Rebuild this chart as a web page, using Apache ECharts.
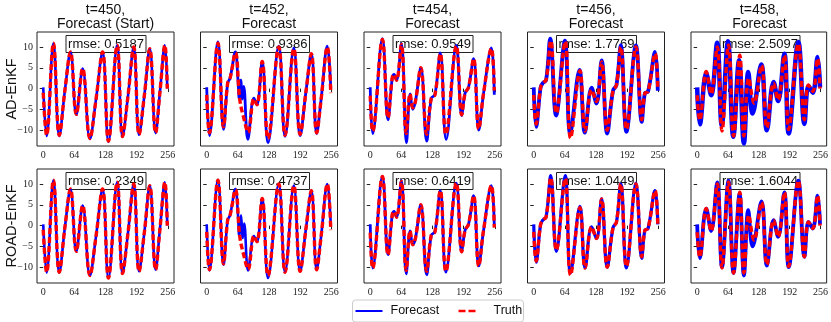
<!DOCTYPE html>
<html><head><meta charset="utf-8">
<script src="https://cdn.jsdelivr.net/npm/echarts@6/dist/echarts.min.js"></script>
<style>html,body{margin:0;padding:0;background:#fff}#c{width:831px;height:322px}</style>
</head><body><div id="c"></div>
<script>
const xTicks = [0, 64, 128, 192, 256];
const yTicks = [-10, -5, 0, 5, 10];
const panelTitles = ["t=450,\nForecast (Start)", "t=452,\nForecast", "t=454,\nForecast", "t=456,\nForecast", "t=458,\nForecast"];
const rowNames = ["AD-EnKF", "ROAD-EnKF"];
const legendNames = ["Forecast", "Truth"];
const rmseAD = ["0.5187", "0.9386", "0.9549", "1.7769", "2.5097"];
const rmseROAD = ["0.2349", "0.4737", "0.6419", "1.0449", "1.6044"];

// Truth (same for both rows), [index, value] at read-off turning points
const truth450 = [[0,-1],[7,-11.2],[21,10.9],[33,-11.2],[45,0],[56,8.8],[68,-6.2],[81,4.8],[96,-12],[108,-3],[122,8.8],[134,-12.6],[152,10.4],[163,-11.5],[174,-2],[186,10],[197,-11],[208,-1.5],[219,9.6],[231,-10.6],[240,-0.7],[250,10.4],[255,0]];
const truth452 = [[0,-1.5],[5.5,-10.6],[23,10.9],[34.5,-9.2],[43,1.3],[48,2.5],[59,8.6],[68,-2.7],[76,-7],[85,-10.5],[97,-2.5],[103,-3.9],[114,6.5],[126,-12],[148,10],[161,-11.2],[179,9.6],[192,-11],[204,-0.7],[215,8.4],[226,-10.6],[235,-2.7],[248,10],[255,-1.1]];
const truth454 = [[0,-1.7],[5,-10.2],[25,11.8],[36.5,-7],[45.5,2.8],[49,3.4],[54,2],[64,10.6],[74,-10.8],[82,-1.3],[87.5,-4.6],[93,-3],[104,5],[116,-11],[125.5,-2.3],[133,-1.5],[144,8.4],[155.5,-11],[177,10.2],[188,-6.3],[195,-1.1],[202,0.3],[212.5,7.2],[223,-9.7],[233,-1.1],[249,9.6],[255,-0.5]];
const truth456 = [[0,-1.5],[5,-8.5],[14,0.2],[18.5,1.3],[25.5,2.1],[35,11.5],[46.5,-5.9],[64.7,11.3],[75.7,-11.9],[95,4.3],[105.5,-10.2],[119,-0.3],[129,-3.1],[139.5,6.4],[151,-10],[163,-0.5],[170,0.8],[179,10],[190.6,-9.8],[210,10],[222,-7.5],[228.5,-1.1],[235,-0.7],[249.5,8.4],[255,0]];
const truth458 = [[0,-1.6],[5.5,-7.6],[18.8,4.1],[29,-1.3],[41.7,10],[51.5,-10.2],[65,10.5],[75.5,-11.4],[88.5,8],[97,-11.4],[107,2.5],[118,-3.5],[133.6,5.6],[144.7,-9.4],[158.6,1.3],[168,-2.7],[181,8],[190,-9.8],[210,10.8],[222.6,-7.5],[231,0.9],[240,-0.7],[250,7.2],[255,0]];

// AD-EnKF forecasts
const fcAD450 = [[0,0.3],[7,-11.4],[21,10.9],[33,-11.4],[45,0],[56,8.8],[68,-6.3],[81,4.8],[96,-12.1],[108,-3],[122,8.8],[134,-12.8],[152,10.4],[163,-11.6],[174,-2],[186,10],[197,-11.1],[208,-1.5],[219,9.6],[231,-10.7],[240,-0.7],[250,10.4],[255,0]];
const fcAD452 = [[0,0.3],[5.5,-11.3],[23,11.2],[34.5,-9.8],[43,1.3],[48,2.5],[59,8.8],[64,2.5],[67,-2.5],[70,2],[73,-2.5],[76,0.5],[84.5,-12.2],[97,-2.3],[103,-3.9],[114,6.5],[126,-13],[148,10.2],[161,-11.5],[179,9.8],[192,-11.3],[204,-0.7],[215,8.4],[226,-10.8],[235,-2.7],[248,10.2],[255,0]];
const fcAD454 = [[0,0.3],[5,-10.8],[25,12],[36.5,-7.5],[45.5,2.8],[49,3.4],[54,2],[64,10.8],[74.5,-13],[82,-1.3],[87.5,-5],[93,-3],[104,5],[116,-12.6],[125.5,-2.3],[133,-1.5],[144,8.6],[156,-12.2],[177,10.4],[188,-6.5],[195,-1.1],[202,0.3],[212.5,7.2],[223,-10],[233,-1.1],[249,9.8],[255,-1.5]];
const fcAD456 = [[0,0.3],[5,-9.2],[14,0.2],[18.5,1.3],[25.5,2.1],[34,12],[46,-6.5],[64,11.5],[75,-10.8],[94,4.5],[105,-10.6],[119,0.2],[129,-3.6],[139.5,6.8],[151,-10.8],[163,-0.5],[170,0.8],[179,10.4],[190.6,-10.4],[210,10.4],[222,-8],[228.5,-1.1],[235,-0.7],[249.5,8.8],[255,-0.5]];
const fcAD458 = [[0,0.3],[5.5,-8.6],[18.8,3.7],[29,-1.6],[41.5,11],[51,-8.8],[64,11.4],[75,-11.6],[87,6.8],[97,-13.2],[106,4],[115,-6],[133,5.8],[144.7,-10],[158.6,1.6],[168,-3],[181,8.4],[190,-10.8],[210,11.2],[222.6,-8.5],[231,0.6],[240,-1],[250,7.6],[255,0.3]];

// ROAD-EnKF forecasts
const fcROAD450 = [[0,0.3],[7,-11.3],[21,10.9],[33,-11.3],[45,0],[56,8.8],[68,-6.2],[81,4.8],[96,-12],[108,-3],[122,8.8],[134,-12.6],[152,10.4],[163,-11.5],[174,-2],[186,10],[197,-11],[208,-1.5],[219,9.6],[231,-10.6],[240,-0.7],[250,10.4],[255,0]];
const fcROAD452 = [[0,0.3],[5.5,-10.8],[23,11],[34.5,-9.4],[43,1.3],[48,2.5],[59,8.8],[64,3],[67,-2.5],[70.5,2.5],[74,-3],[77,0.5],[85,-10.8],[97,-2.5],[103,-3.9],[114,6.5],[126,-12.6],[148,10],[161,-11.2],[179,9.6],[192,-11],[204,-0.7],[215,8.4],[226,-10.6],[235,-2.7],[248,10],[255,0]];
const fcROAD454 = [[0,0.3],[5,-10.2],[25,11.8],[36.5,-7],[45.5,2.8],[49,3.4],[54,2],[64,10.8],[74,-11.6],[82,-1.3],[87.5,-4.6],[93,-3],[104,5],[116,-11.8],[125.5,-2.3],[133,-1.5],[144,8.4],[155.5,-11.2],[177,10.2],[188,-6.3],[195,-1.1],[202,0.3],[212.5,7.2],[223,-9.7],[233,-1.1],[249,9.6],[255,0]];
const fcROAD456 = [[0,0.3],[5,-8.8],[14,0.2],[18.5,1.3],[25.5,2.1],[35,12],[46.5,-6.2],[64.7,12],[75.7,-11.4],[95,4.6],[105.5,-10.2],[119,-0.3],[129,-3.1],[139.5,6.4],[151,-10],[163,-0.5],[170,0.8],[179,10],[190.6,-10.2],[210,10.2],[222,-7.9],[228.5,-1.1],[235,-0.7],[249.5,8.4],[255,0.3]];
const fcROAD458 = [[0,0.3],[5.5,-7.8],[18.8,4.1],[29,-1.3],[41.7,10.4],[51.5,-10],[65,10.8],[75.5,-11.4],[88,7.6],[97,-12],[106,3.7],[115,-5],[133.6,5.8],[144.7,-9.6],[158.6,1.3],[168,-2.7],[181,8],[190,-10],[210,10.8],[222.6,-7.5],[231,0.9],[240,-0.7],[250,7.2],[255,0.3]];

const truths = [truth450, truth452, truth454, truth456, truth458];
const fcRows = [[fcAD450, fcAD452, fcAD454, fcAD456, fcAD458], [fcROAD450, fcROAD452, fcROAD454, fcROAD456, fcROAD458]];
const rmseRows = [rmseAD, rmseROAD];
const blueWidths = [[2.6, 2.8, 2.8, 3.8, 4.5], [2.6, 2.6, 2.8, 3.2, 3.8]];

const lefts = [37, 200.5, 364, 527.5, 691];
const tops = [32, 169];
const W = 137, H = 114;

const grids = [], xAxes = [], yAxes = [], series = [], graphics = [], titles = [];
const fmt = v => String(v).replace('-', '\u2212');
let gi = 0;
for (let r = 0; r < 2; r++) {
  for (let c = 0; c < 5; c++) {
    grids.push({left: lefts[c], top: tops[r], width: W, height: H, show: true, borderColor: '#222', borderWidth: 1, backgroundColor: 'transparent'});
    xAxes.push({type: 'value', gridIndex: gi, min: -12.8, max: 268.8, splitLine: {show: false}, axisLine: {show: false},
      axisTick: {show: true, length: 3.5, lineStyle: {color: '#222'}, customValues: xTicks},
      axisLabel: {show: true, customValues: xTicks, fontFamily: 'Liberation Serif', fontSize: 10, color: '#222', margin: 4, formatter: fmt}});
    yAxes.push({type: 'value', gridIndex: gi, min: -13.8, max: 13.6, splitLine: {show: false}, axisLine: {show: false},
      axisTick: {show: true, length: 3.5, lineStyle: {color: '#222'}, customValues: yTicks},
      axisLabel: {show: c === 0, customValues: yTicks, fontFamily: 'Liberation Serif', fontSize: 10, color: '#222', margin: 4, formatter: fmt}});
    series.push({type: 'line', name: legendNames[0], xAxisIndex: gi, yAxisIndex: gi, data: fcRows[r][c], smooth: 0.4, symbol: 'none',
      lineStyle: {color: '#0000ff', width: blueWidths[r][c]}, itemStyle: {color: '#0000ff'}, z: 2, silent: true, animation: false, clip: true});
    series.push({type: 'line', name: legendNames[1], xAxisIndex: gi, yAxisIndex: gi, data: truths[c], smooth: 0.4, symbol: 'none',
      lineStyle: {color: '#ff0000', width: 3.4, type: [6, 3]}, itemStyle: {color: '#ff0000'}, z: 3, silent: true, animation: false, clip: true});
    const cx = lefts[c] + W / 2;
    graphics.push({type: 'group', left: cx - 40, top: tops[r] + 3, z: 0, children: [
      {type: 'rect', shape: {x: 0, y: 0, width: 80, height: 17}, style: {fill: '#fff', stroke: '#222', lineWidth: 1}},
      {type: 'text', x: 40, y: 8.5, style: {text: 'rmse: ' + rmseRows[r][c], fill: '#111', font: '13px "Liberation Sans"', textAlign: 'center', textVerticalAlign: 'middle'}}
    ]});
    gi++;
  }
}
for (let c = 0; c < 5; c++) {
  titles.push({text: panelTitles[c], left: lefts[c] + W / 2, top: 2.5, padding: 0, textAlign: 'center',
    textStyle: {fontFamily: 'Liberation Sans', fontSize: 14, fontWeight: 'normal', color: '#111', lineHeight: 14.5}});
}
graphics.push({type: 'text', x: 4, y: 89, rotation: Math.PI / 2, style: {text: rowNames[0], font: '14.5px "Liberation Sans"', fill: '#111', textAlign: 'center', textVerticalAlign: 'top'}});
graphics.push({type: 'text', x: 4, y: 226, rotation: Math.PI / 2, style: {text: rowNames[1], font: '14.5px "Liberation Sans"', fill: '#111', textAlign: 'center', textVerticalAlign: 'top'}});

// legend (drawn as graphic so the handles match the reference)
graphics.push({type: 'group', left: 352, top: 299.5, z: 10, children: [
  {type: 'rect', shape: {x: 0, y: 0, width: 171, height: 22, r: 3}, style: {fill: '#fff', stroke: '#cccccc', lineWidth: 1}},
  {type: 'line', shape: {x1: 3, y1: 11, x2: 30, y2: 11}, style: {stroke: '#0000ff', lineWidth: 2}},
  {type: 'text', x: 38, y: 11, style: {text: legendNames[0], font: '12.5px "Liberation Sans"', fill: '#111', textVerticalAlign: 'middle'}},
  {type: 'line', shape: {x1: 106, y1: 11, x2: 124, y2: 11}, style: {stroke: '#ff0000', lineWidth: 2.5, lineDash: [7, 3]}},
  {type: 'text', x: 141, y: 11, style: {text: legendNames[1], font: '12.5px "Liberation Sans"', fill: '#111', textVerticalAlign: 'middle'}}
]});

const chart = echarts.init(document.getElementById('c'), null, {renderer: 'canvas'});
chart.setOption({
  animation: false,
  backgroundColor: '#fff',
  title: titles,
  grid: grids, xAxis: xAxes, yAxis: yAxes, series: series,
  graphic: graphics
});
</script></body></html>
